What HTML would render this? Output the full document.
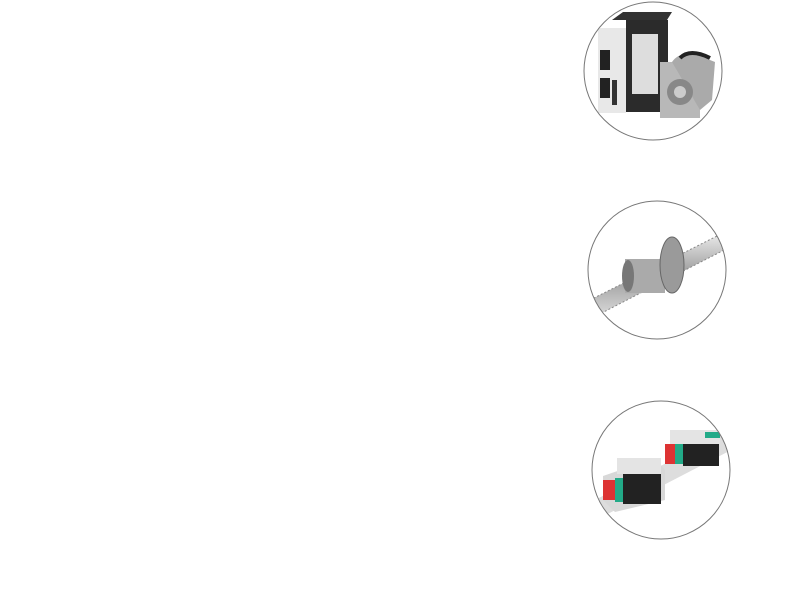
<!DOCTYPE html>
<html><head><style>html,body{margin:0;padding:0;background:#fff;width:800px;height:595px;overflow:hidden}</style></head>
<body>
<svg width="800" height="595" viewBox="0 0 800 595" xmlns="http://www.w3.org/2000/svg">
<defs>
<clipPath id="c1"><circle cx="653" cy="71" r="69"/></clipPath>
<clipPath id="c2"><circle cx="657" cy="270" r="69"/></clipPath>
<clipPath id="c3"><circle cx="661" cy="470" r="69"/></clipPath>
<linearGradient id="metal" x1="0" y1="0" x2="0" y2="1"><stop offset="0" stop-color="#eee"/><stop offset="0.5" stop-color="#999"/><stop offset="1" stop-color="#ddd"/></linearGradient>
</defs>
<!-- circle 1: servo -->
<g clip-path="url(#c1)">
<rect x="580" y="0" width="150" height="145" fill="#fff"/>
<polygon points="612,20 623,12 672,12 667,20" fill="#333"/>
<rect x="598" y="28" width="28" height="85" fill="#e8e8e8"/>
<rect x="600" y="50" width="10" height="20" fill="#222"/>
<rect x="600" y="78" width="10" height="20" fill="#222"/>
<rect x="612" y="80" width="5" height="25" fill="#333"/>
<rect x="626" y="20" width="42" height="92" fill="#2b2b2b"/>
<rect x="632" y="34" width="26" height="60" fill="#ddd"/>
<rect x="660" y="62" width="40" height="56" fill="#b8b8b8"/>
<path d="M672 62 Q680 50 700 56 L715 62 L712 100 L700 110 Z" fill="#aaa"/>
<circle cx="680" cy="92" r="13" fill="#888"/>
<circle cx="680" cy="92" r="6" fill="#ccc"/>
<path d="M680 58 Q690 48 710 58" stroke="#222" stroke-width="4" fill="none"/>
</g>
<circle cx="653" cy="71" r="69" fill="none" stroke="#777" stroke-width="1"/>
<!-- circle 2: ball screw -->
<g clip-path="url(#c2)">
<rect x="585" y="200" width="150" height="145" fill="#fff"/>
<polygon points="590,300 725,232 728,248 592,318" fill="url(#metal)"/>
<polygon points="590,300 725,232 728,248 592,318" fill="none" stroke="#888" stroke-width="1" stroke-dasharray="2,2"/>
<ellipse cx="640" cy="276" rx="16" ry="17" fill="#bbb"/>
<rect x="625" y="259" width="40" height="34" fill="#aaa"/>
<ellipse cx="672" cy="265" rx="12" ry="28" fill="#9a9a9a" stroke="#666"/>
<ellipse cx="628" cy="276" rx="6" ry="16" fill="#777"/>
</g>
<circle cx="657" cy="270" r="69" fill="none" stroke="#777" stroke-width="1"/>
<!-- circle 3: linear guide -->
<g clip-path="url(#c3)">
<rect x="588" y="398" width="150" height="145" fill="#fff"/>
<polygon points="595,500 730,430 735,448 600,518" fill="#ddd"/>
<polygon points="603,476 655,458 665,470 665,500 615,512 603,500" fill="#d8d8d8"/>
<rect x="603" y="480" width="12" height="20" fill="#d33"/>
<rect x="615" y="478" width="8" height="24" fill="#2a8"/>
<rect x="623" y="470" width="38" height="34" fill="#222"/>
<rect x="617" y="458" width="44" height="16" fill="#e4e4e4"/>
<rect x="665" y="444" width="10" height="20" fill="#d33"/>
<rect x="675" y="440" width="8" height="24" fill="#2a8"/>
<rect x="683" y="436" width="36" height="30" fill="#222"/>
<rect x="670" y="430" width="50" height="14" fill="#e4e4e4"/>
<rect x="705" y="432" width="15" height="6" fill="#2a8"/>
</g>
<circle cx="661" cy="470" r="69" fill="none" stroke="#777" stroke-width="1"/>
</svg>
</body></html>
